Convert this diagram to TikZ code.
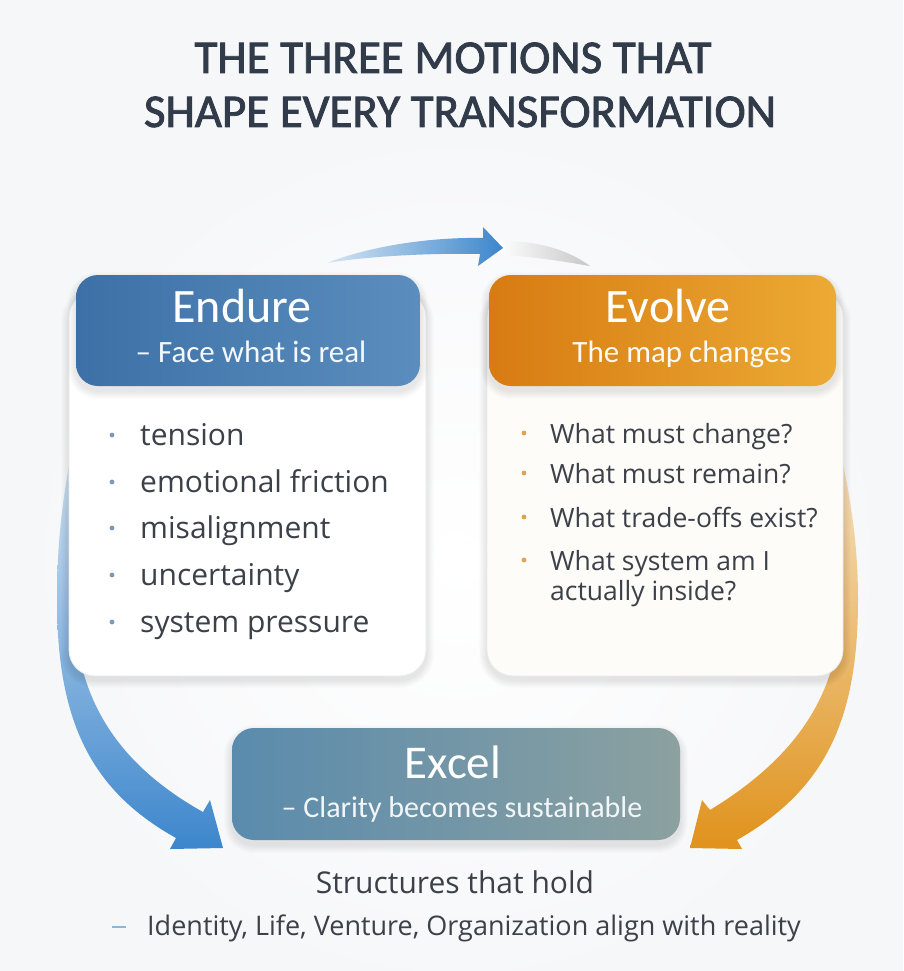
\documentclass[tikz,border=0pt]{standalone}
\usepackage{fontspec}
\setmainfont{Open Sans}
\newfontfamily\carl{Carlito}
\newfontfamily\carlbold{Carlito}[FakeBold=1.8]
\usetikzlibrary{calc}
\definecolor{bgc}{HTML}{F6F7F9}
\definecolor{titlec}{HTML}{313B4A}
\definecolor{bodyc}{HTML}{3C4149}
\definecolor{blueA}{HTML}{3D70A6}
\definecolor{blueB}{HTML}{5B8EBE}
\definecolor{orA}{HTML}{D77B12}
\definecolor{orB}{HTML}{ECAA34}
\definecolor{exA}{HTML}{5A8BAD}
\definecolor{exB}{HTML}{8CA1A0}
\definecolor{arrBlue}{HTML}{3C86CC}
\definecolor{arrBlueL}{HTML}{D6E5F3}
\definecolor{arrOr}{HTML}{E0921C}
\definecolor{arrOrL}{HTML}{F6E3C2}
\definecolor{ldot}{HTML}{7F97B3}
\definecolor{rdot}{HTML}{E2A14E}
\definecolor{dashc}{HTML}{8DB6DA}
\newcommand\softshadow[5]{%
  \foreach \s in {1,...,8}{%
    \fill[black,opacity=0.013,rounded corners=#5+\s] (#1-\s,#2-\s+5) rectangle (#3+\s,#4+\s+5);}}
\begin{document}
\begin{tikzpicture}[x=1pt,y=-1pt,
  titletext/.style={font=\carlbold\fontsize{47}{47}\selectfont, text=titlec, anchor=base, inner sep=0pt},
  hdrtext/.style={font=\carl\fontsize{48}{48}\selectfont, text=white, anchor=base, inner sep=0pt},
  subtext/.style={font=\carl\fontsize{31}{31}\selectfont, text=white!94!blueB, anchor=base, inner sep=0pt},
  lbul/.style={font=\fontsize{30}{32}\selectfont, text=bodyc, anchor=base west, inner sep=0pt},
  rbul/.style={font=\fontsize{26.5}{30}\selectfont, text=bodyc, anchor=base west, inner sep=0pt},
  foot/.style={font=\fontsize{30}{32}\selectfont, text=bodyc, anchor=base, inner sep=0pt},
  foot2/.style={font=\fontsize{27}{30}\selectfont, text=bodyc, anchor=base west, inner sep=0pt},
  card/.style={fill=white, draw=black!8, line width=0.8pt, rounded corners=26pt},
]
\useasboundingbox (0,0) rectangle (903,971);
% background
\fill[bgc] (0,0) rectangle (903,971);
\shade[inner color=white, outer color=bgc] (458,560) circle (440);

% title
\node[titletext] (title1) at (453,73) {THE THREE MOTIONS THAT};
\node[titletext] (title2) at (460,127) {SHAPE EVERY TRANSFORMATION};

% top arrow: Endure -> Evolve
\shade[left color=white!75!bgc, right color=black!22!white]
  (500,241) .. controls (540,241) and (568,250) .. (590,266)
  .. controls (560,261) and (530,256) .. (500,255) -- cycle;
\shade[left color=arrBlueL, right color=arrBlue]
  (327,263) .. controls (370,246) and (430,237) .. (483,238)
  -- (483,227) -- (503,248) -- (478,266) -- (480,254)
  .. controls (430,253) and (370,256) .. (327,263) -- cycle;

% left arrow: Endure -> Excel
\shade[top color=arrBlueL, bottom color=arrBlue]
  (72,450) .. controls (62,500) and (57,545) .. (57,600)
  .. controls (57,720) and (90,790) .. (176,838)
  -- (170,849) -- (223,848) -- (210,800) -- (203,812)
  .. controls (110,760) and (74,690) .. (74,600) -- (74,450) -- cycle;

% right arrow: Evolve -> Excel
\shade[top color=arrOrL, bottom color=arrOr]
  (840,450) .. controls (851,500) and (858,545) .. (858,600)
  .. controls (858,720) and (825,790) .. (737,840)
  -- (742,849) -- (690,848) -- (702,800) -- (710,810)
  .. controls (800,755) and (841,690) .. (841,600) -- (841,450) -- cycle;

% cards
\softshadow{69}{290}{426}{675}{26}
\softshadow{487}{290}{843}{675}{26}
\node[card, minimum width=357pt, minimum height=385pt] (endurecard) at (247.5,290.5) [anchor=north] {};
\node[card, fill=white!97!orB, minimum width=356pt, minimum height=385pt] (evolvecard) at (665,290.5) [anchor=north] {};

% headers
\softshadow{76}{275}{420}{386}{22}
\softshadow{489}{275}{836}{386}{22}
\shade[left color=blueA, right color=blueB, rounded corners=22pt] (76,275) rectangle (420,386);
\shade[left color=orA, right color=orB, rounded corners=22pt] (489,275) rectangle (836,386);
\node[hdrtext] (endure) at (242,322) {Endure};
\node[subtext] (endsub) at (251,362) {– Face what is real};
\node[hdrtext] (evolve) at (668,322) {Evolve};
\node[subtext, text=white!94!orB] (evosub) at (682,362) {The map changes};

% left bullets
\foreach \y/\t [count=\i] in {445/tension,492/emotional friction,538/misalignment,585/uncertainty,632/system pressure}{
  \fill[ldot] (112,\y-10) circle (2.4);
  \node[lbul] (lb\i) at (140,\y) {\t};
}

% right bullets
\foreach \y/\t [count=\i] in {443/What must change?,483/What must remain?,527/What trade-offs exist?,570/What system am I}{
  \fill[rdot] (524,\y-10) circle (2.4);
  \node[rbul] (rb\i) at (550,\y) {\t};
}
\node[rbul] (rb5) at (550,600) {actually inside?};

% Excel box
\softshadow{232}{728}{680}{840}{22}
\shade[left color=exA, right color=exB, rounded corners=22pt] (232,728) rectangle (680,840);
\node[hdrtext, font=\carl\fontsize{47}{47}\selectfont] (excel) at (453,778) {Excel};
\node[subtext, font=\carl\fontsize{30}{30}\selectfont, text=white!92!exA] (excelsub) at (462,817) {– Clarity becomes sustainable};

% footer
\node[foot] (struct) at (455,893) {Structures that hold};
\draw[dashc, line width=1.6pt] (112,927) -- (126,927);
\node[foot2] (ident) at (147,935) {Identity, Life, Venture, Organization align with reality};
\end{tikzpicture}
\end{document}
